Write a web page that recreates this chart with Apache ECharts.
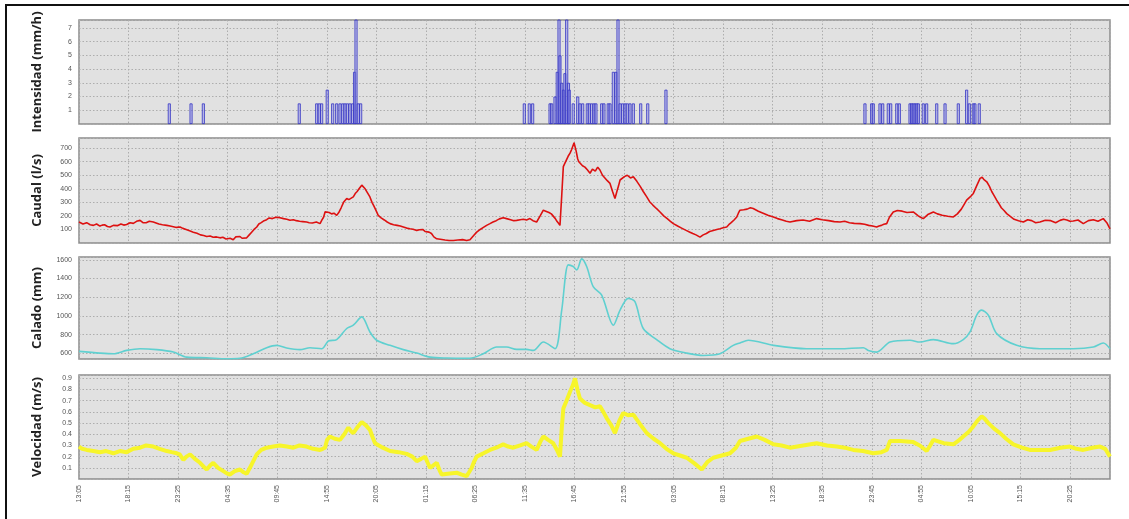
<!DOCTYPE html>
<html><head><meta charset="utf-8">
<script src="https://cdn.jsdelivr.net/npm/echarts@6/dist/echarts.min.js"></script>
<style>html,body{margin:0;padding:0;background:#fff}#c{width:1129px;height:519px}</style>
</head><body><div id="c"></div>
<script>
// x axis: minutes from 13:05 on day 1
const timeLabels = ['13:05','18:15','23:25','04:35','09:45','14:55','20:05','01:15','06:25','11:35','16:45','21:55','03:05','08:15','13:25','18:35','23:45','04:55','10:05','15:15','20:25'];
const tickStep = 310;
const xMax = 6450;

// Intensidad (mm/h): pulse times (min) and values
const rainT = [565,701,778,1378,1487,1503,1518,1553,1587,1612,1633,1650,1664,1679,1695,1712,1724,1733,1747,1762,
  2786,2817,2838,2947,2957,2978,2992,3003,3009,3020,3031,3040,3051,3062,3067,3092,3120,3134,3151,3180,3192,3207,3222,3234,3270,3284,3311,3322,3343,3359,3372,3385,3401,3416,3430,3447,3468,3514,3558,3672,
  4917,4959,4969,5011,5028,5063,5078,5116,5132,5199,5209,5219,5230,5241,5251,5282,5303,5366,5418,5501,5553,5570,5595,5605,5632];
const rainV = [1.5,1.5,1.5,1.5,1.5,1.5,1.5,2.5,1.5,1.5,1.5,1.5,1.5,1.5,1.5,1.5,3.8,8,1.5,1.5,
  1.5,1.5,1.5,1.5,1.5,2,3.8,8,5,3,2.5,3.7,8,3,2.5,1.5,2,1.5,1.5,1.5,1.5,1.5,1.5,1.5,1.5,1.5,1.5,1.5,3.8,3.8,8,1.5,1.5,1.5,1.5,1.5,1.5,1.5,1.5,2.5,
  1.5,1.5,1.5,1.5,1.5,1.5,1.5,1.5,1.5,1.5,1.5,1.5,1.5,1.5,1.5,1.5,1.5,1.5,1.5,1.5,2.5,1.5,1.5,1.5,1.5];

// Caudal (l/s)
const caudal = [[0,155],[12,168],[25,140],[36,152],[48,150],[70,135],[90,130],[110,140],[131,125],[145,132],[160,135],[178,122],[194,118],[215,130],[240,128],[262,140],[280,132],[298,137],[320,150],[340,145],[360,160],[382,167],[400,150],[420,150],[440,160],[465,155],[482,148],[500,140],[522,135],[549,130],[570,125],[590,120],[610,115],[632,118],[650,108],[670,100],[692,90],[715,80],[738,72],[760,60],[780,55],[799,48],[820,52],[840,42],[860,45],[882,38],[900,42],[920,30],[945,35],[965,24],[980,45],[990,40],[1007,48],[1020,35],[1030,30],[1049,38],[1065,60],[1080,80],[1095,100],[1112,118],[1125,140],[1140,150],[1158,165],[1174,172],[1190,185],[1210,180],[1232,190],[1257,187],[1280,180],[1300,175],[1320,168],[1341,172],[1360,165],[1380,160],[1400,158],[1424,155],[1440,150],[1460,148],[1485,155],[1508,143],[1520,170],[1530,190],[1540,230],[1550,242],[1565,225],[1580,215],[1595,220],[1612,204],[1625,225],[1640,260],[1655,300],[1675,328],[1688,320],[1700,310],[1716,340],[1728,365],[1740,380],[1752,400],[1769,427],[1780,415],[1790,400],[1805,370],[1820,340],[1833,300],[1846,270],[1860,235],[1872,204],[1890,185],[1910,170],[1928,155],[1946,143],[1968,135],[1990,130],[2010,125],[2029,118],[2050,110],[2070,105],[2090,102],[2113,93],[2130,98],[2150,100],[2165,85],[2175,93],[2190,80],[2205,70],[2220,45],[2238,31],[2260,28],[2290,22],[2315,18],[2342,19],[2370,22],[2400,25],[2425,18],[2446,24],[2465,50],[2488,80],[2510,100],[2530,115],[2550,130],[2571,143],[2590,155],[2610,165],[2630,178],[2654,187],[2675,180],[2700,172],[2720,165],[2738,167],[2760,172],[2780,175],[2800,170],[2821,180],[2840,165],[2863,155],[2885,200],[2905,242],[2920,235],[2940,225],[2955,215],[2967,204],[2980,180],[2990,160],[3000,145],[3009,130],[3020,350],[3030,564],[3040,590],[3050,600],[3060,640],[3072,663],[3082,690],[3090,700],[3097,740],[3103,750],[3110,680],[3120,620],[3127,600],[3134,589],[3150,570],[3165,560],[3180,540],[3197,515],[3212,545],[3230,530],[3245,560],[3259,539],[3275,500],[3290,480],[3305,460],[3322,440],[3338,380],[3353,328],[3365,380],[3375,420],[3385,465],[3395,477],[3412,490],[3430,500],[3450,480],[3468,489],[3490,455],[3510,420],[3530,380],[3552,340],[3570,305],[3590,280],[3612,255],[3635,229],[3658,200],[3680,180],[3700,160],[3718,143],[3745,125],[3770,110],[3795,95],[3822,80],[3840,70],[3860,60],[3872,50],[3885,43],[3905,60],[3925,70],[3945,85],[3968,93],[3990,100],[4010,105],[4030,112],[4052,118],[4065,135],[4080,150],[4098,170],[4115,192],[4125,220],[4135,242],[4158,245],[4180,250],[4200,260],[4218,254],[4250,235],[4280,220],[4310,205],[4344,192],[4370,180],[4400,170],[4425,160],[4448,155],[4490,165],[4530,170],[4570,160],[4615,180],[4650,172],[4690,165],[4725,158],[4761,155],[4790,160],[4820,150],[4850,145],[4886,143],[4915,138],[4940,130],[4965,125],[4990,118],[5005,125],[5020,130],[5035,138],[5053,143],[5070,190],[5094,229],[5120,240],[5150,235],[5180,225],[5219,229],[5235,215],[5250,200],[5265,190],[5282,180],[5310,210],[5345,229],[5370,215],[5400,205],[5435,198],[5470,192],[5495,215],[5520,250],[5535,280],[5553,316],[5575,340],[5595,366],[5615,420],[5637,477],[5650,485],[5660,470],[5679,452],[5695,420],[5710,380],[5725,350],[5741,316],[5755,290],[5770,260],[5787,240],[5804,217],[5828,195],[5850,175],[5878,165],[5908,155],[5935,172],[5960,165],[5985,150],[6012,155],[6045,168],[6080,165],[6110,150],[6137,167],[6160,175],[6180,170],[6200,160],[6220,162],[6250,170],[6283,143],[6315,165],[6346,172],[6375,160],[6408,180],[6420,190],[6430,150],[6450,105]];

// Calado (mm)
const calado = [[0,621],[131,603],[215,596],[298,632],[382,650],[486,640],[590,614],[674,560],[799,553],[924,543],[1007,548],[1090,596],[1174,661],[1237,686],[1299,657],[1382,640],[1445,661],[1518,650],[1560,732],[1612,747],[1675,866],[1716,901],[1769,990],[1820,829],[1862,740],[1946,686],[2029,640],[2113,603],[2196,560],[2300,550],[2446,548],[2529,596],[2613,668],[2675,668],[2738,643],[2801,643],[2842,632],[2905,721],[2978,650],[3020,1062],[3061,1546],[3092,1528],[3114,1492],[3145,1610],[3176,1528],[3217,1313],[3270,1223],[3343,901],[3385,1062],[3436,1188],[3478,1152],[3530,866],[3614,747],[3697,650],[3802,603],[3906,578],[4010,596],[4093,686],[4135,711],[4187,740],[4344,686],[4552,650],[4761,650],[4907,661],[4938,632],[4990,614],[5074,721],[5199,740],[5261,721],[5345,747],[5470,704],[5532,747],[5574,829],[5616,1008],[5647,1062],[5689,1008],[5741,811],[5866,686],[6012,650],[6220,650],[6346,668],[6408,711],[6450,650]];

// Velocidad (m/s)
const velocidad = [[0,0.29],[20,0.27],[48,0.26],[90,0.25],[131,0.24],[170,0.25],[215,0.23],[255,0.25],[298,0.24],[340,0.27],[382,0.28],[420,0.3],[465,0.29],[505,0.27],[549,0.25],[580,0.24],[612,0.23],[630,0.22],[653,0.17],[672,0.2],[695,0.22],[725,0.18],[757,0.145],[780,0.11],[799,0.085],[820,0.12],[840,0.145],[870,0.1],[903,0.07],[925,0.05],[944,0.04],[975,0.07],[1007,0.085],[1030,0.06],[1049,0.047],[1080,0.13],[1112,0.22],[1140,0.26],[1174,0.28],[1215,0.29],[1257,0.30],[1300,0.29],[1341,0.28],[1380,0.3],[1424,0.29],[1465,0.27],[1508,0.26],[1525,0.27],[1539,0.28],[1552,0.35],[1570,0.38],[1600,0.36],[1633,0.35],[1660,0.4],[1685,0.46],[1700,0.43],[1716,0.41],[1740,0.46],[1769,0.51],[1795,0.48],[1820,0.44],[1835,0.38],[1852,0.32],[1900,0.28],[1946,0.25],[2000,0.24],[2050,0.225],[2085,0.2],[2113,0.16],[2140,0.18],[2165,0.2],[2180,0.15],[2196,0.10],[2215,0.12],[2238,0.145],[2255,0.08],[2269,0.04],[2320,0.05],[2363,0.056],[2395,0.04],[2425,0.026],[2440,0.06],[2457,0.10],[2470,0.15],[2488,0.20],[2530,0.23],[2571,0.26],[2610,0.28],[2654,0.31],[2685,0.29],[2717,0.28],[2760,0.3],[2800,0.32],[2830,0.29],[2863,0.26],[2885,0.33],[2905,0.38],[2935,0.35],[2967,0.32],[2990,0.26],[3009,0.20],[3020,0.45],[3030,0.63],[3050,0.7],[3072,0.78],[3090,0.84],[3103,0.90],[3118,0.8],[3134,0.72],[3165,0.68],[3197,0.66],[3230,0.64],[3259,0.65],[3280,0.6],[3301,0.545],[3330,0.48],[3353,0.41],[3380,0.52],[3405,0.59],[3435,0.57],[3468,0.575],[3510,0.49],[3552,0.41],[3595,0.36],[3635,0.32],[3675,0.27],[3718,0.23],[3760,0.21],[3802,0.19],[3850,0.14],[3896,0.085],[3930,0.15],[3968,0.19],[4020,0.21],[4073,0.23],[4110,0.28],[4135,0.34],[4187,0.36],[4240,0.38],[4290,0.35],[4344,0.31],[4395,0.3],[4448,0.28],[4530,0.3],[4615,0.32],[4680,0.3],[4740,0.29],[4790,0.28],[4844,0.26],[4905,0.25],[4969,0.23],[5020,0.24],[5053,0.26],[5074,0.34],[5140,0.34],[5219,0.33],[5260,0.3],[5303,0.25],[5325,0.3],[5345,0.35],[5410,0.32],[5470,0.31],[5500,0.34],[5532,0.38],[5565,0.42],[5595,0.47],[5620,0.52],[5647,0.56],[5665,0.54],[5689,0.50],[5725,0.45],[5762,0.41],[5800,0.36],[5845,0.31],[5900,0.28],[5949,0.26],[6010,0.26],[6075,0.26],[6140,0.28],[6200,0.29],[6240,0.27],[6283,0.26],[6340,0.28],[6387,0.29],[6420,0.27],[6450,0.20]];

const panelNames = ['Intensidad (mm/h)','Caudal (l/s)','Calado (mm)','Velocidad (m/s)'];

const chart = echarts.init(document.getElementById('c'), null, {renderer:'canvas'});
const gridPos = [{top:20,height:104},{top:138,height:105},{top:257,height:102},{top:375,height:104}];
const dotted = {show:true, lineStyle:{color:'#adadad', type:[1.5,2], width:1}};
const labelFont = {fontFamily:'Liberation Sans, Arial, sans-serif', fontSize:7, color:'#555'};

const grids = gridPos.map(g => ({left:79, width:1031, top:g.top, height:g.height, show:true,
  backgroundColor:'#e1e1e1', borderColor:'#8c8c8c', borderWidth:1.5, containLabel:false}));

const xAxes = gridPos.map((g,i) => ({type:'value', gridIndex:i, min:0, max:xMax, interval:tickStep,
  axisLine:{show:false}, axisTick:{show:false}, splitLine:dotted,
  axisLabel: i===3 ? Object.assign({show:true, rotate:90, margin:6,
     formatter: v => (v % tickStep === 0 && timeLabels[v/tickStep] !== undefined) ? timeLabels[v/tickStep] : ''}, labelFont) : {show:false}
}));

const nameStyle = {fontFamily:'Open Sans, Noto Sans, sans-serif', fontWeight:'bold', fontSize:13, color:'#222'};
const yCommon = (i) => ({type:'value', gridIndex:i, name:panelNames[i], nameLocation:'middle', nameRotate:90, nameGap:35,
  nameTextStyle:nameStyle, axisLine:{show:false}, axisTick:{show:false}, splitLine:dotted});
const yAxes = [
  Object.assign(yCommon(0), {min:0, max:7.58, interval:1, axisLabel:Object.assign({margin:7, formatter:v => (v>0 && v<=7 && Number.isInteger(v)) ? String(v) : ''}, labelFont)}),
  Object.assign(yCommon(1), {min:0, max:775, interval:100, axisLabel:Object.assign({margin:7, formatter:v => (v>0 && v%100===0) ? String(v) : ''}, labelFont)}),
  Object.assign(yCommon(2), {min:540, max:1630, splitNumber:5, axisLabel:Object.assign({margin:7, formatter:v => (v%200===0) ? String(v) : ''}, labelFont)}),
  Object.assign(yCommon(3), {min:0, max:0.93, interval:0.1, axisLabel:Object.assign({margin:7, formatter:v => {const k=Math.round(v*10); return (k>0 && Math.abs(v*10-k)<1e-6) ? (k/10).toFixed(1) : '';}}, labelFont)})
];

const rainData = rainT.map((t,i) => [t, rainV[i]]);

chart.setOption({
  animation:false,
  backgroundColor:'#ffffff',
  grid:grids, xAxis:xAxes, yAxis:yAxes,
  series:[
    {type:'bar', xAxisIndex:0, yAxisIndex:0, data:rainData, barWidth:3, clip:true,
      itemStyle:{color:'rgba(150,150,235,0.5)', borderColor:'#3434c4', borderWidth:0.8}},
    {type:'line', xAxisIndex:1, yAxisIndex:1, data:caudal, showSymbol:false, clip:true,
      lineStyle:{color:'#dd1111', width:1.6}},
    {type:'line', xAxisIndex:2, yAxisIndex:2, data:calado, showSymbol:false, smooth:0.3, clip:true,
      lineStyle:{color:'#5fd0d0', width:1.6}},
    {type:'line', xAxisIndex:3, yAxisIndex:3, data:velocidad, showSymbol:false, clip:true,
      lineStyle:{color:'#f7f52a', width:4}}
  ],
  graphic:[
    {type:'line', shape:{x1:5, y1:5, x2:1129, y2:5}, style:{stroke:'#111', lineWidth:2}},
    {type:'line', shape:{x1:6, y1:5, x2:6, y2:519}, style:{stroke:'#111', lineWidth:2}}
  ]
});
</script>
</body></html>
